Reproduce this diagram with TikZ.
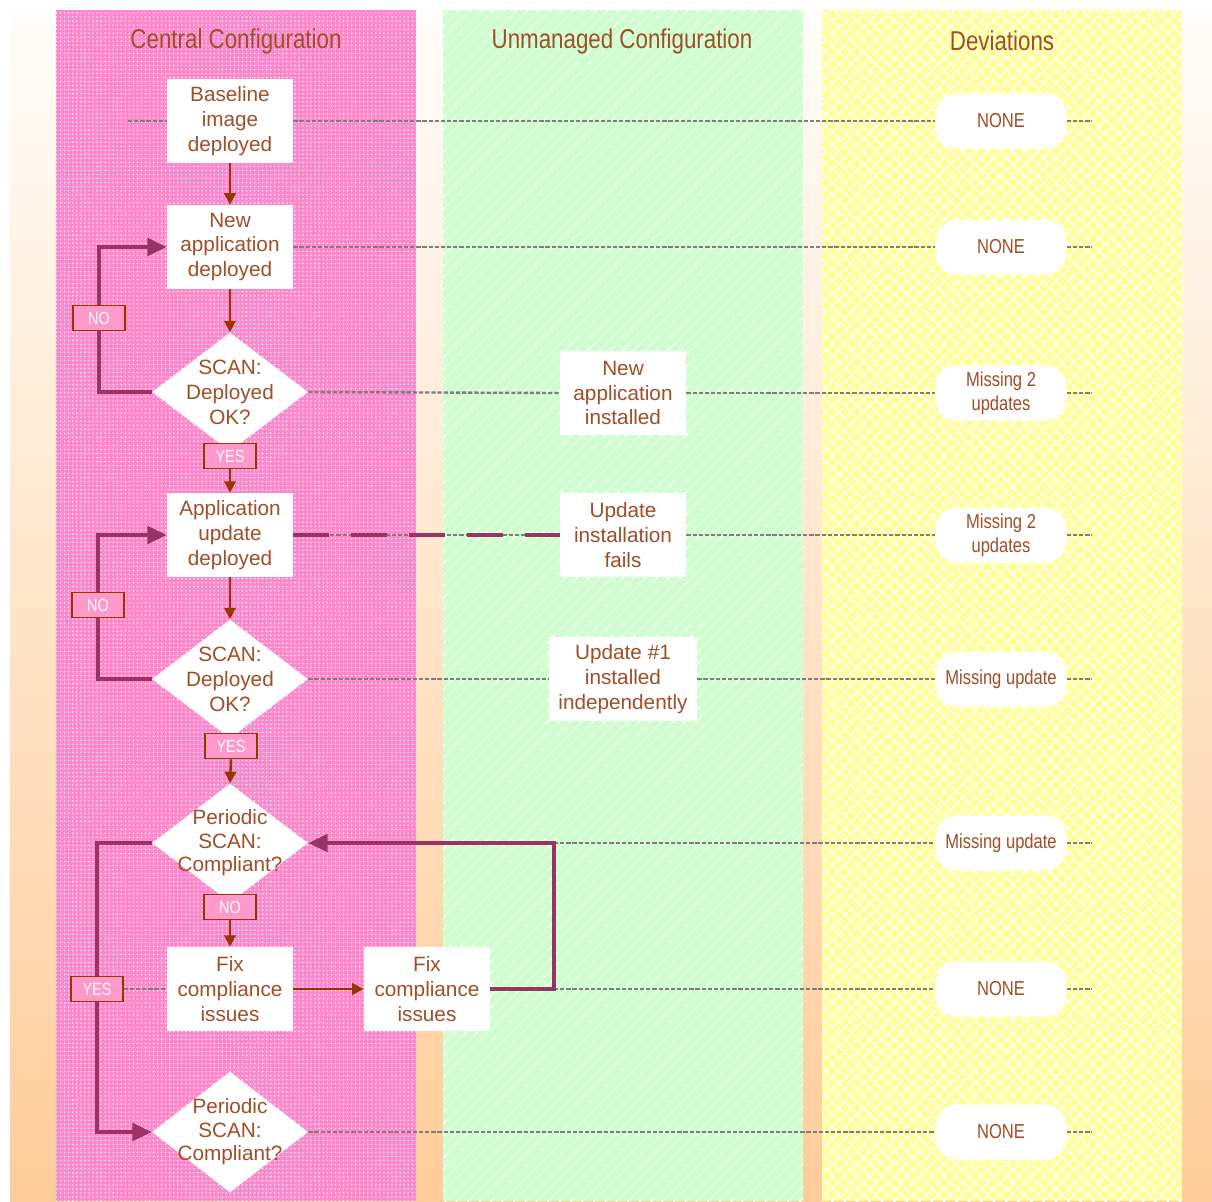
\documentclass[tikz,border=0pt]{standalone}
\usepackage{fontspec}
\setmainfont{Liberation Sans}
\newfontfamily\condfont[FakeStretch=0.82]{Liberation Sans}
\usetikzlibrary{arrows.meta,shapes.geometric,patterns.meta}
\definecolor{txt}{RGB}{158,78,40}
\definecolor{lanepink}{RGB}{255,136,204}
\definecolor{lanegreen}{RGB}{204,255,204}
\definecolor{laneyellow}{RGB}{255,255,153}
\definecolor{arrbrown}{RGB}{153,51,0}
\definecolor{looppurple}{RGB}{153,51,102}
\definecolor{dashgrey}{RGB}{125,125,125}
\definecolor{labpink}{RGB}{255,153,204}
\definecolor{bgtop}{RGB}{255,253,250}
\definecolor{bgmid}{RGB}{255,233,210}
\definecolor{bgbot}{RGB}{255,204,153}
\pgfdeclarelayer{bg}
\pgfdeclarelayer{lines}
\pgfsetlayers{bg,lines,main}
\tikzset{
  boxtxt/.style={text=txt, font=\fontsize{11.8}{14.2}\selectfont, align=center},
  box/.style={boxtxt, fill=white, minimum width=2.52cm, minimum height=1.68cm, inner sep=0pt},
  diam/.style={diamond, fill=white, inner sep=0pt, minimum width=3.12cm, minimum height=2.38cm},
  dtext/.style={boxtxt, inner sep=0pt},
  dev/.style={fill=white, rounded corners=0.44cm, minimum width=2.62cm, minimum height=1.1cm,
    inner sep=0pt, align=center, text=txt, font=\condfont\fontsize{11.5}{13.6}\selectfont},
  lane title/.style={text=txt, font=\condfont\fontsize{15.5}{18}\selectfont},
  yn/.style={fill=labpink, draw=arrbrown, line width=0.85pt, minimum width=1.04cm, minimum height=0.5cm,
    inner sep=0pt, text=white, font=\condfont\fontsize{10}{12}\selectfont},
  flow/.style={draw=arrbrown, line width=1.4pt, -{Triangle[length=6.5pt,width=6.5pt]}},
  loopline/.style={draw=looppurple, line width=2.2pt, -{Triangle[length=11pt,width=10pt]}},
  guide/.style={draw=dashgrey, line width=1.35pt, dash pattern=on 2.4pt off 1.1pt},
  failline/.style={draw=looppurple, line width=2.2pt, dash pattern=on 20.5pt off 12.5pt}
}
\begin{document}
\begin{tikzpicture}[x=0.02cm,y=-0.02cm]
\useasboundingbox (0,0) rectangle (1212,1201);
\begin{pgfonlayer}{bg}
  \fill[white] (0,0) rectangle (1212,1201);
  \shade[top color=bgtop, middle color=bgmid, bottom color=bgbot] (10,10) rectangle (1212,1201);
  \fill[lanepink] (56,10) rectangle (416,1201);
  \fill[pattern={Dots[distance=2.3pt,radius=0.45pt]}, pattern color=white] (56,10) rectangle (416,1201);
  \fill[lanegreen] (443,10) rectangle (803,1201);
  \fill[pattern={Lines[angle=45,distance=4.6pt,line width=0.6pt]}, pattern color=white] (443,10) rectangle (803,1201);
  \fill[laneyellow] (822,10) rectangle (1182,1201);
  \fill[pattern={Hatch[angle=45,distance=5pt,line width=0.6pt]}, pattern color=white] (822,10) rectangle (1182,1201);
\end{pgfonlayer}

% lane titles
\node[lane title] (t1) at (236,41) {Central Configuration};
\node[lane title] (t2) at (622,41) {Unmanaged Configuration};
\node[lane title] (t3) at (1002,41) {Deviations};

% central column
\node[box] (b1) at (230,121) {Baseline\\image\\deployed};
\node[box] (b2) at (230,247) {New\\application\\deployed};
\node[diam] (d1) at (230,392) {};
\node[dtext] (d1t) at (d1.center) {SCAN:\\Deployed\\OK?};
\node[yn] (yes1) at (230,456) {YES};
\node[box] (b3) at (230,535) {Application\\update\\deployed};
\node[diam] (d2) at (230,679) {};
\node[dtext] (d2t) at (d2.center) {SCAN:\\Deployed\\OK?};
\node[yn] (yes2) at (231,746) {YES};
\node[diam] (d3) at (230,843) {};
\node[dtext, font=\fontsize{11.8}{13.4}\selectfont] (d3t) at (d3.center) {Periodic\\SCAN:\\Compliant?};
\node[yn] (no3) at (230,907) {NO};
\node[box] (f1) at (230,989) {Fix\\compliance\\issues};
\node[box] (f2) at (427,989) {Fix\\compliance\\issues};
\node[diam, minimum height=2.42cm] (d4) at (230,1132) {};
\node[dtext, font=\fontsize{11.8}{13.4}\selectfont] (d4t) at (d4.center) {Periodic\\SCAN:\\Compliant?};
\node[yn] (no1) at (99,318) {NO};
\node[yn] (no2) at (98,605) {NO};
\node[yn] (yes3) at (97,989) {YES};

% unmanaged column
\node[box] (g1) at (623,393) {New\\application\\installed};
\node[box] (g2) at (623,535) {Update\\installation\\fails};
\node[box, minimum width=2.96cm] (g3) at (623,679) {Update \#1\\installed\\independently};

% deviations column
\node[dev] (y1) at (1001,121) {NONE};
\node[dev] (y2) at (1001,247) {NONE};
\node[dev] (y3) at (1001,393) {Missing 2\\updates};
\node[dev] (y4) at (1001,535) {Missing 2\\updates};
\node[dev] (y5) at (1001,679) {Missing update};
\node[dev] (y6) at (1001,843) {Missing update};
\node[dev] (y7) at (1001,989) {NONE};
\node[dev] (y8) at (1001,1132) {NONE};

% free ends
\coordinate (s1) at (128,121);
\coordinate (e1) at (1092,121);
\coordinate (e2) at (1092,247);
\coordinate (e3) at (1092,393);
\coordinate (e4) at (1092,535);
\coordinate (e5) at (1092,679);
\coordinate (e6) at (1092,843);
\coordinate (e7) at (1092,989);
\coordinate (e8) at (1092,1132);
\coordinate (c6) at (554,843);
\coordinate (c7) at (554,989);

\begin{pgfonlayer}{lines}
  % guide lines
  \draw[guide] (s1) -- (b1.west);
  \draw[guide] (b1.east) -- (y1.west);
  \draw[guide] (y1.east) -- (e1);
  \draw[guide] (b2.east) -- (y2.west);
  \draw[guide] (y2.east) -- (e2);
  \draw[guide] (d1.east) -- (g1.west);
  \draw[guide] (g1.east) -- (y3.west);
  \draw[guide] (y3.east) -- (e3);
  \draw[guide] (b3.east) -- (g2.west);
  \draw[failline] (b3.east) -- (g2.west);
  \draw[guide] (g2.east) -- (y4.west);
  \draw[guide] (y4.east) -- (e4);
  \draw[guide] (d2.east) -- (g3.west);
  \draw[guide] (g3.east) -- (y5.west);
  \draw[guide] (y5.east) -- (e5);
  \draw[guide] (c6) -- (y6.west);
  \draw[guide] (y6.east) -- (e6);
  \draw[guide] (yes3.east) -- (f1.west);
  \draw[guide] (c7) -- (y7.west);
  \draw[guide] (y7.east) -- (e7);
  \draw[guide] (d4.east) -- (y8.west);
  \draw[guide] (y8.east) -- (e8);

  % main flow
  \draw[flow] (b1.south) -- (b2.north);
  \draw[flow] (b2.south) -- (d1.north);
  \draw[draw=arrbrown, line width=1.4pt] (d1.south) -- (yes1.north);
  \draw[flow] (yes1.south) -- (b3.north);
  \draw[flow] (b3.south) -- (d2.north);
  \draw[draw=arrbrown, line width=1.4pt] (d2.south) -- (yes2.north);
  \draw[flow] (yes2.south) -- (d3.north);
  \draw[draw=arrbrown, line width=1.4pt] (d3.south) -- (no3.north);
  \draw[flow] (no3.south) -- (f1.north);
  \draw[flow] (f1.east) -- (f2.west);

  % loops
  \draw[loopline] (d1.west) -| (no1.center) |- (b2.west);
  \draw[loopline] (d2.west) -| (no2.center) |- (b3.west);
  \draw[loopline] (d3.west) -| (yes3.center) |- (d4.west);
  \draw[loopline] (f2.east) -- (c7) -- (c6) -- (d3.east);
\end{pgfonlayer}
\end{tikzpicture}
\end{document}
